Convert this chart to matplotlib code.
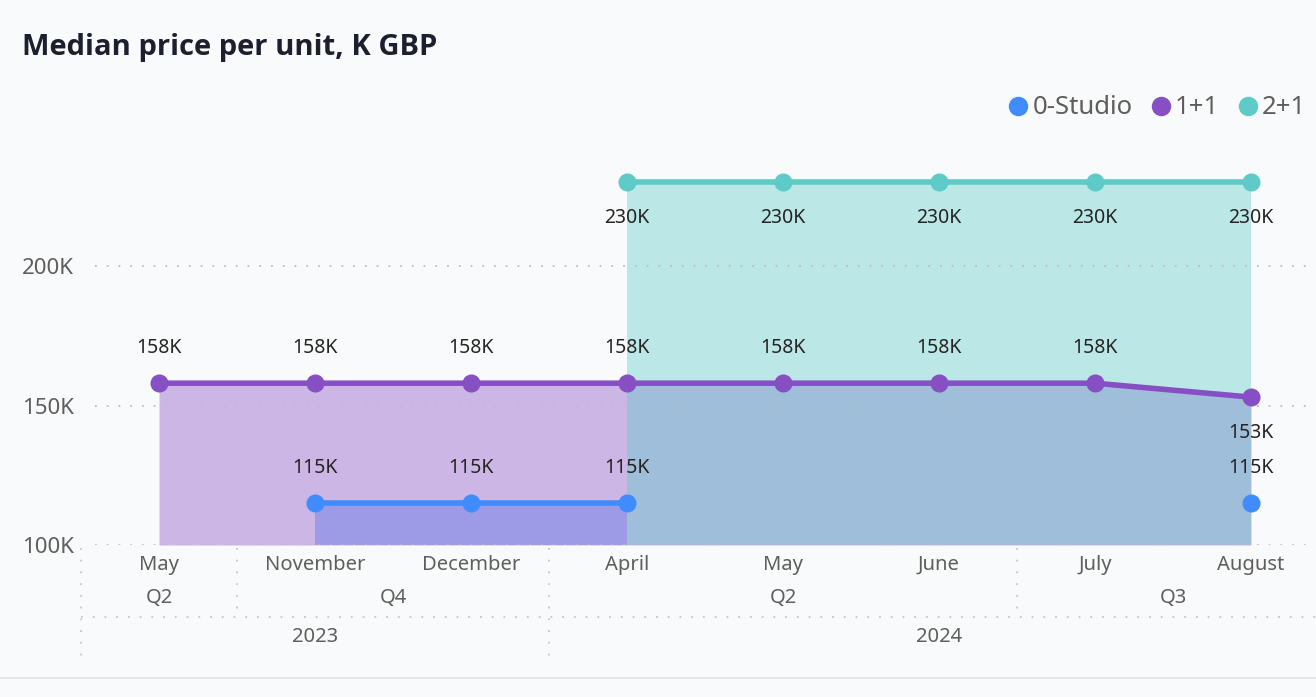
import numpy as np
import matplotlib.pyplot as plt
from matplotlib.lines import Line2D

# ------------------------------------------------------------
# data (K GBP), NaN = no value for that month
# ------------------------------------------------------------
months = ["May", "November", "December", "April", "May", "June", "July", "August"]
quarters = ["Q2", "Q4", "Q4", "Q2", "Q2", "Q2", "Q3", "Q3"]
years = ["2023", "2023", "2023", "2024", "2024", "2024", "2024", "2024"]

studio = [np.nan, 115, 115, 115, np.nan, np.nan, np.nan, 115]
one_bed = [158, 158, 158, 158, 158, 158, 158, 153]
two_bed = [np.nan, np.nan, np.nan, 230, 230, 230, 230, 230]

series_names = ["0-Studio", "1+1", "2+1"]
series_vals = [studio, one_bed, two_bed]
colors = ["#408CFF", "#8650C4", "#5ECBC8"]

y_ticks = [100, 150, 200]

BG = "#F9FAFC"
GREY = "#605E5C"
FONT = "Noto Sans"

W, H = 1316, 697
fig = plt.figure(figsize=(W / 100, H / 100), dpi=100, facecolor=BG)

# axes placed in pixel terms of the reference
ax_l, ax_r, ax_b, ax_t = 81, 1310, 545, 126.5
ax = fig.add_axes([ax_l / W, 1 - ax_b / H, (ax_r - ax_l) / W, (ax_b - ax_t) / H])
ax.set_facecolor(BG)
band = 156.0  # pixels per category
ax.set_xlim(-0.5, -0.5 + (ax_r - ax_l) / band)
ax.set_ylim(100, 250)
for s in ax.spines.values():
    s.set_visible(False)

x = np.arange(len(months))

# areas first (blue, purple, teal on top), then lines
for i, (vals, c) in enumerate(zip(series_vals, colors)):
    y = np.ma.masked_invalid(np.array(vals, dtype=float))
    ax.fill_between(x, y, 100, color=c, alpha=0.4, linewidth=0, zorder=1 + i)

# dotted gridlines over the fills
for yt in y_ticks:
    ax.axhline(yt, xmin=14 / (ax_r - ax_l), xmax=1, color="#BEBCBA",
               lw=1.3, dashes=(1, 5.5), zorder=5)

for i, (vals, c) in enumerate(zip(series_vals, colors)):
    ax.plot(x, vals, color=c, lw=4, marker="o", ms=12, zorder=6 + i,
            solid_capstyle="butt")

# data labels
for name, vals in zip(series_names, series_vals):
    for i, v in enumerate(vals):
        if np.isnan(v):
            continue
        below = name == "2+1" or (i > 0 and v < vals[i - 1])
        dy = -26 if below else 25
        ax.annotate(f"{v:.0f}K", (x[i], v), xytext=(0, dy), textcoords="offset points",
                    ha="center", va="center", fontsize=14, color="#252423",
                    family=FONT, zorder=10)

# y axis
ax.set_yticks(y_ticks)
ax.set_yticklabels([f"{t}K" for t in y_ticks], family=FONT, fontsize=16, color=GREY)
ax.tick_params(axis="y", length=0, pad=5)
ax.set_xticks([])


# hierarchical x axis
def ay(px):
    return (ax_b - px) / (ax_b - ax_t)


tr = ax.get_xaxis_transform()
for i, m in enumerate(months):
    ax.text(x[i], ay(565), m, transform=tr, ha="center", va="center",
            fontsize=14.5, color=GREY, family=FONT, clip_on=False)


def groups(labels):
    out, start = [], 0
    for i in range(1, len(labels) + 1):
        if i == len(labels) or labels[i] != labels[start] or (labels is quarters and years[i] != years[start]):
            out.append((labels[start], start, i - 1))
            start = i
    return out


q_groups = groups(quarters)
y_groups = groups(years)
for lab, a, b in q_groups:
    ax.text((a + b) / 2, ay(598), lab, transform=tr, ha="center", va="center",
            fontsize=14.5, color=GREY, family=FONT, clip_on=False)
for lab, a, b in y_groups:
    ax.text((a + b) / 2, ay(637), lab, transform=tr, ha="center", va="center",
            fontsize=14.5, color=GREY, family=FONT, clip_on=False)

sep_kw = dict(color="#C8C6C4", lw=1.3, dashes=(1, 5.5), transform=tr, clip_on=False)
year_starts = {a for _, a, _ in y_groups}
for _, a, _ in q_groups:
    bottom = ay(657) if a in year_starts else ay(610)
    ax.add_line(Line2D([a - 0.5, a - 0.5], [ay(548), bottom], **sep_kw))
ax.add_line(Line2D([-0.5, -0.5 + (W - ax_l) / band], [ay(617), ay(617)], **sep_kw))

# bottom border of the visual
fig.add_artist(Line2D([0, 1], [1 - 678 / H, 1 - 678 / H], color="#E6E6E6", lw=1.5))

# title (semibold look)
fig.text(22 / W, 1 - 48 / H, "Median price per unit, K GBP", ha="left", va="center",
         fontsize=21, fontweight="bold", color="#1B1F2E", family="Open Sans")

# legend
handles = [Line2D([], [], ls="none", marker="o", ms=13, color=c) for c in colors]
fig.legend(handles, series_names, loc="center right",
           bbox_to_anchor=(1306 / W, 1 - 108 / H), ncol=3, frameon=False,
           borderaxespad=0, borderpad=0, handlelength=0.7, handletextpad=0.2,
           columnspacing=0.75, prop={"family": FONT, "size": 18.5}, labelcolor=GREY)

fig.savefig("out.png", dpi=100, facecolor=BG)
